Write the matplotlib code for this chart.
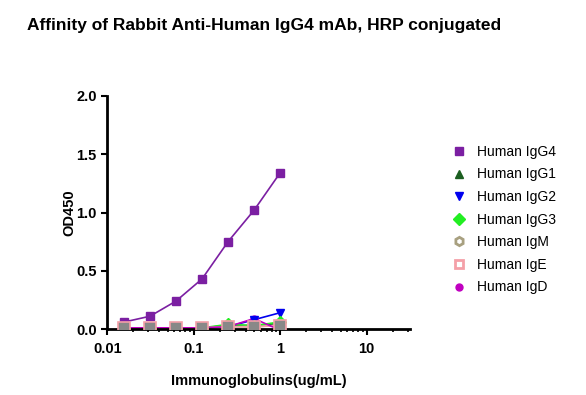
import matplotlib
matplotlib.use("Agg")
import matplotlib.pyplot as plt

# concentrations (ug/mL)
conc = [1, 0.5, 0.25, 0.125, 0.0625, 0.03125, 0.015625]

igg4 = [1.34, 1.02, 0.75, 0.43, 0.24, 0.11, 0.06]
igg1 = [0.05, 0.03, 0.03, 0.01, 0.01, 0.01, 0.01]
igg2 = [0.14, 0.08, 0.02, 0.01, 0.01, 0.01, 0.01]
igg3 = [0.06, 0.03, 0.04, 0.01, 0.01, 0.01, 0.01]
igm = [0.03, 0.02, 0.02, 0.01, 0.01, 0.01, 0.01]
ige = [0.03, 0.02, 0.02, 0.01, 0.01, 0.01, 0.01]
igd = [-0.01, 0.09, 0.02, 0.01, 0.01, 0.01, 0.01]

series = [
    ("Human IgG4", igg4, "#7b1fa2", "s", True),
    ("Human IgG1", igg1, "#1b5e20", "^", True),
    ("Human IgG2", igg2, "#0000ee", "v", True),
    ("Human IgG3", igg3, "#22ee22", "D", True),
    ("Human IgM", igm, "#a8a080", "h", False),
    ("Human IgE", ige, "#f4a0a8", "s", False),
    ("Human IgD", igd, "#c000c0", "o", True),
]
# drawing order: IgD under the grey IgM/IgE markers
zorders = {"Human IgD": 3, "Human IgM": 5, "Human IgE": 5}

plt.rcParams['font.family'] = ['Arial', 'Liberation Sans', 'DejaVu Sans']

fig = plt.figure(figsize=(5.86, 3.95), dpi=100)
ax = fig.add_axes([0.183, 0.167, 0.517, 0.59])

for name, y, col, mk, filled in series:
    z = zorders.get(name, 4)
    ax.plot(conc, y, color=col, lw=1.2, zorder=2)
    if filled:
        ax.plot(conc, y, mk, color=col, ms=6 if mk != "o" else 5, zorder=z, linestyle='none')
    else:
        ax.plot(conc, y, mk, mfc='#888888', mec=col, mew=1.2, ms=8, zorder=z,
                linestyle='none')

ax.set_xscale('log')
ax.set_xlim(0.01, 32)
ax.set_ylim(0, 2.0)
ax.set_yticks([0, 0.5, 1.0, 1.5, 2.0])
ax.set_yticklabels(['0.0', '0.5', '1.0', '1.5', '2.0'])
ax.set_xticks([0.01, 0.1, 1, 10])
ax.set_xticklabels(['0.01', '0.1', '1', '10'])
for s in ['top', 'right']:
    ax.spines[s].set_visible(False)
for s in ['left', 'bottom']:
    ax.spines[s].set_linewidth(2)
ax.tick_params(axis='both', which='major', width=1.5, length=4, labelsize=10.5)
ax.tick_params(axis='x', which='minor', width=1.2, length=2.5)
ax.tick_params(axis='x', which='major', pad=5)
for lab in ax.get_xticklabels() + ax.get_yticklabels():
    lab.set_fontweight('bold')

ax.set_ylabel("OD450", fontsize=10.5, fontweight='bold', labelpad=0)
ax.set_xlabel("Immunoglobulins(ug/mL)", fontsize=10.5, fontweight='bold', labelpad=13)
fig.text(0.046, 0.935, "Affinity of Rabbit Anti-Human IgG4 mAb, HRP conjugated",
         fontsize=12.5, fontweight='bold', ha='left', va='center')

# legend
handles = []
for name, y, col, mk, filled in series:
    if filled:
        h, = ax.plot([], [], mk, color=col, ms=6 if mk != "o" else 5, linestyle='none')
    else:
        h, = ax.plot([], [], mk, mfc='white', mec=col, mew=2, ms=6, linestyle='none')
    handles.append(h)
fig.legend(handles, [s[0] for s in series], loc='upper left',
           bbox_to_anchor=(0.75, 0.665), frameon=False, fontsize=10,
           handletextpad=0.8, labelspacing=0.62, handlelength=1.0)

fig.savefig("out.png", dpi=100)
